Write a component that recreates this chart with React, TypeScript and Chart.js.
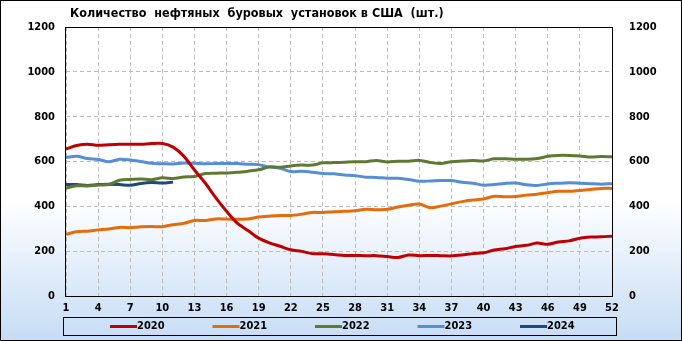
import React, { useEffect, useRef } from "react";
import { Chart, registerables } from "chart.js";

Chart.register(...registerables);

const TITLE = "Количество  нефтяных  буровых  установок в США  (шт.)";

const weeks = [
  "1", "2", "3", "4", "5", "6", "7", "8", "9", "10",
  "11", "12", "13", "14", "15", "16", "17", "18", "19", "20",
  "21", "22", "23", "24", "25", "26", "27", "28", "29", "30",
  "31", "32", "33", "34", "35", "36", "37", "38", "39", "40",
  "41", "42", "43", "44", "45", "46", "47", "48", "49", "50",
  "51", "52",
];

const years = ["2020", "2021", "2022", "2023", "2024"];
const colors = ["#C00000", "#E46C0A", "#5F7A30", "#558ED5", "#1F497D"];

const s2020 = [
  656, 671, 677, 672, 675, 677, 677, 677, 680, 680,
  664, 624, 562, 504, 438, 378, 325, 292, 258, 237,
  222, 206, 199, 189, 188, 185, 181, 181, 180, 180,
  176, 172, 183, 180, 181, 180, 179, 183, 189, 193,
  205, 211, 221, 226, 236, 231, 241, 246, 258, 263,
  264, 267,
];
const s2021 = [
  275, 287, 289, 295, 299, 306, 305, 309, 310, 309,
  318, 324, 337, 337, 344, 343, 342, 344, 352, 356,
  359, 359, 365, 373, 372, 376, 378, 380, 387, 385,
  387, 397, 405, 410, 394, 401, 411, 421, 428, 433,
  445, 443, 444, 450, 454, 461, 467, 467, 471, 475,
  480, 480,
];
const s2022 = [
  481, 492, 491, 495, 497, 516, 520, 522, 519, 527,
  524, 531, 533, 546, 548, 549, 552, 557, 563, 576,
  574, 580, 584, 584, 594, 595, 597, 599, 599, 605,
  598, 601, 601, 605, 596, 591, 599, 602, 604, 602,
  612, 612, 610, 610, 613, 623, 627, 627, 625, 620,
  622, 621,
];
const s2023 = [
  618, 623, 613, 609, 599, 610, 607, 600, 592, 590,
  589, 593, 592, 590, 591, 591, 591, 588, 586, 575,
  570, 555, 556, 552, 546, 545, 540, 537, 530, 529,
  525, 525, 520, 512, 513, 515, 515, 507, 503, 494,
  497, 502, 504, 496, 493, 500, 503, 505, 503, 501,
  499, 501,
];
const s2024 = [497, 497, 493, 497, 499, 497, 494, 502, 506, 504, 508];

const yTicks = [0, 200, 400, 600, 800, 1000, 1200];

const FONT = "'DejaVu Sans Condensed', 'DejaVu Sans', sans-serif";

export default function App() {
  const ref = useRef<HTMLCanvasElement>(null);

  useEffect(() => {
    document.body.style.margin = "0";
    const canvas = ref.current!;
    const seriesList = [s2020, s2021, s2022, s2023, s2024];

    const deco = {
      id: "deco",
      beforeDraw(chart: any) {
        const c = chart.ctx;
        const { width, height } = chart;
        const g = c.createLinearGradient(0, 0, 0, height);
        g.addColorStop(0, "#ffffff");
        g.addColorStop(0.58, "#ffffff");
        g.addColorStop(1, "#c6dcf5");
        c.save();
        c.fillStyle = g;
        c.fillRect(0, 0, width, height);
        c.restore();
      },
      afterDraw(chart: any) {
        const c = chart.ctx;
        const a = chart.chartArea;
        c.save();
        c.strokeStyle = "#000";
        c.lineWidth = 1;
        c.setLineDash([]);
        c.strokeRect(Math.round(a.left) - 0.5, Math.round(a.top) + 0.5, Math.round(a.right - a.left) + 1, Math.round(a.bottom - a.top));
        // title
        c.fillStyle = "#000";
        c.font = "bold 12.5px " + FONT;
        c.textBaseline = "middle";
        c.textAlign = "left";
        c.fillText(TITLE, 70, 14);
        // legend
        c.font = "bold 11px " + FONT;
        c.strokeRect(63.5, 317.5, 553, 18);
        const ds = chart.data.datasets;
        for (let i = 0; i < ds.length; i++) {
          const x0 = 110 + i * 102.5;
          const y = 326.5;
          c.strokeStyle = ds[i].borderColor;
          c.lineWidth = 3;
          c.beginPath();
          c.moveTo(x0, y);
          c.lineTo(x0 + 27, y);
          c.stroke();
          c.fillStyle = "#000";
          c.fillText(ds[i].label, x0 + 27, y);
        }
        c.strokeStyle = "#000";
        c.lineWidth = 1;
        c.strokeRect(0.5, 0.5, chart.width - 1, chart.height - 1);
        c.restore();
      },
    };

    const tickFont = { family: FONT, size: 11, weight: "bold" as const };
    const plain = (v: any) => String(v);

    const chart = new Chart(canvas, {
      type: "line",
      data: {
        labels: weeks,
        datasets: years.map((y, i) => ({
          label: y,
          data: seriesList[i],
          borderColor: colors[i],
          backgroundColor: colors[i],
          borderWidth: 3,
          pointRadius: 0,
          tension: 0.3,
          fill: false,
          yAxisID: "y",
        })),
      },
      options: {
        responsive: false,
        animation: false,
        events: [],
        layout: { padding: { top: 27, left: 0, right: 0, bottom: 25 } },
        plugins: {
          legend: { display: false },
          title: { display: false },
          tooltip: { enabled: false },
        },
        scales: {
          x: {
            offset: false,
            grid: { color: "#bdbdbd", lineWidth: 1, drawTicks: false },
            border: { display: false, dash: [4, 3] },
            ticks: {
              autoSkip: false,
              maxRotation: 0,
              padding: 6,
              color: "#000",
              font: tickFont,
              callback: function (this: any, value: any, index: number) {
                return index % 3 === 0 ? weeks[index] : null;
              },
            },
            afterFit: (s: any) => {
              s.height = 20;
            },
          },
          y: {
            position: "left",
            min: 0,
            max: 1200,
            grid: { color: "#bdbdbd", lineWidth: 1, drawTicks: false },
            border: { display: false, dash: [4, 3] },
            afterBuildTicks: (s: any) => {
              s.ticks = yTicks.map((v) => ({ value: v }));
            },
            ticks: { padding: 11, color: "#000", font: tickFont, callback: plain },
            afterFit: (s: any) => {
              s.width = 66;
            },
          },
          y2: {
            position: "right",
            min: 0,
            max: 1200,
            grid: { display: false, drawTicks: false },
            border: { display: false },
            afterBuildTicks: (s: any) => {
              s.ticks = yTicks.map((v) => ({ value: v }));
            },
            ticks: { padding: 17, color: "#000", font: tickFont, callback: plain },
            afterFit: (s: any) => {
              s.width = 70;
            },
          },
        },
      },
      plugins: [deco],
    });

    return () => chart.destroy();
  }, []);

  return (
    <div style={{ width: 682, height: 341 }}>
      <canvas ref={ref} width={682} height={341} style={{ display: "block" }} />
    </div>
  );
}
